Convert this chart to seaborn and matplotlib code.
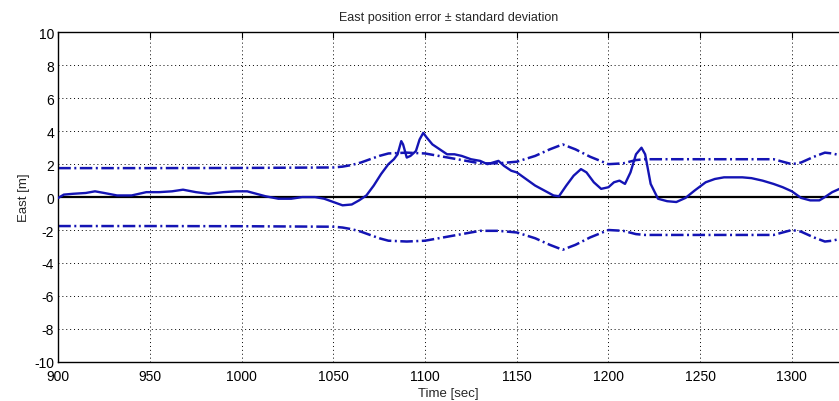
import numpy as np
import pandas as pd
import seaborn as sns
import matplotlib.pyplot as plt

# east error
err_t = [900, 903, 908, 915, 920, 925, 932, 940, 948, 955, 962, 968, 975, 982, 990,
         997, 1003, 1008, 1013, 1020, 1027, 1033, 1040, 1045, 1050, 1055, 1060, 1064,
         1068, 1072, 1076, 1080, 1083, 1085, 1087, 1088, 1090, 1092, 1095, 1097, 1099,
         1101, 1104, 1108, 1112, 1116, 1120, 1125, 1130, 1134, 1137, 1140, 1143, 1147,
         1150, 1155, 1160, 1165, 1170, 1173, 1177, 1181, 1185, 1188, 1192, 1196, 1200,
         1203, 1206, 1209, 1212, 1215, 1218, 1220, 1223, 1227, 1232, 1237, 1242, 1247,
         1253, 1258, 1263, 1268, 1273, 1278, 1284, 1290, 1295, 1300, 1305, 1310, 1315,
         1318, 1322, 1326]
err_v = [-0.05, 0.15, 0.2, 0.25, 0.35, 0.25, 0.1, 0.1, 0.3, 0.3, 0.35, 0.45, 0.3, 0.2, 0.3,
         0.35, 0.35, 0.2, 0.05, -0.1, -0.1, 0.0, 0.0, -0.1, -0.3, -0.5, -0.45, -0.2,
         0.1, 0.7, 1.4, 2.0, 2.3, 2.6, 3.4, 3.2, 2.4, 2.5, 2.8, 3.5, 3.9,
         3.6, 3.2, 2.9, 2.6, 2.6, 2.5, 2.3, 2.2, 2.0, 2.1, 2.2, 1.9, 1.6,
         1.5, 1.1, 0.7, 0.4, 0.1, 0.05, 0.7, 1.3, 1.7, 1.5, 0.9, 0.5, 0.6,
         0.9, 1.0, 0.8, 1.5, 2.6, 3.0, 2.6, 0.8, -0.1, -0.25, -0.3, -0.05, 0.4,
         0.9, 1.1, 1.2, 1.2, 1.2, 1.15, 1.0, 0.8, 0.6, 0.35, -0.05, -0.2, -0.2,
         0.0, 0.3, 0.5]

# standard deviation
std_t = [900, 950, 1000, 1050, 1055, 1060, 1065, 1070, 1075, 1080, 1090, 1100, 1110,
         1120, 1130, 1140, 1150, 1160, 1168, 1175, 1182, 1190, 1200, 1208, 1215, 1220,
         1290, 1295, 1300, 1305, 1312, 1318, 1322, 1326]
std_v = [1.76, 1.76, 1.77, 1.8, 1.85, 1.95, 2.1, 2.3, 2.5, 2.65, 2.7, 2.65, 2.45,
         2.25, 2.05, 2.05, 2.15, 2.5, 2.9, 3.2, 2.9, 2.45, 2.0, 2.05, 2.25, 2.3,
         2.3, 2.15, 2.0, 2.1, 2.45, 2.7, 2.65, 2.55]

err = pd.DataFrame({'t': err_t, 'e': err_v})
sd = pd.DataFrame({'t': std_t, 'up': std_v, 'lo': [-v for v in std_v]})

sns.set_style('white')
plt.rcParams['font.family'] = ['Liberation Sans', 'DejaVu Sans']
plt.rcParams['axes.unicode_minus'] = False

fig = plt.figure(figsize=(8.39, 4.02), dpi=100)
ax = fig.add_axes([0.0695, 0.0978, 0.9305, 0.8189])

blue = '#1414b4'
dashdot = (0, (5, 1.4, 0.8, 1.4))

ax.axhline(0, color='black', lw=1.6, zorder=1)
sns.lineplot(data=err, x='t', y='e', ax=ax, color=blue, lw=1.7, sort=False, zorder=3)
sns.lineplot(data=sd, x='t', y='up', ax=ax, color=blue, lw=1.8, linestyle=dashdot, zorder=2)
sns.lineplot(data=sd, x='t', y='lo', ax=ax, color=blue, lw=1.8, linestyle=dashdot, zorder=2)

ax.set_xlim(900, 1325.7)
ax.set_ylim(-10, 10)
ax.set_xticks(np.arange(900, 1301, 50))
ax.set_yticks(np.arange(-10, 11, 2))
ax.grid(True, color='black', lw=0.7, linestyle=(0, (1, 3)))
ax.tick_params(direction='in', length=4, width=0.8, top=True, labelsize=10,
               colors='black')
ax.tick_params(axis='x', pad=5)
ax.tick_params(axis='y', pad=3)
for s in ['left', 'bottom', 'top']:
    ax.spines[s].set_color('black')
    ax.spines[s].set_linewidth(1.0)
ax.spines['right'].set_visible(False)

ax.set_title('East position error \u00b1 standard deviation', fontsize=9, pad=9)
ax.set_xlabel('Time [sec]', fontsize=9.5, labelpad=3)
ax.set_ylabel('East [m]', fontsize=9.5, labelpad=3)

fig.savefig('out.png', dpi=100)
